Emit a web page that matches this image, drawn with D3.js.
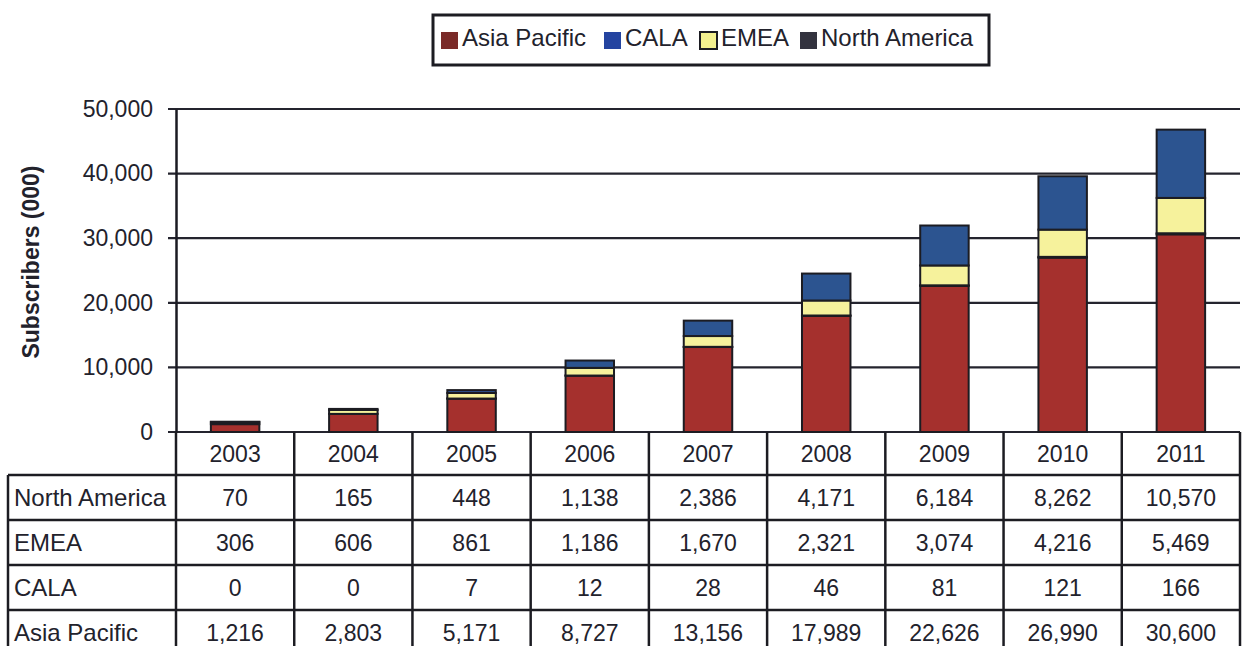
<!DOCTYPE html>
<html>
<head>
<meta charset="utf-8">
<script src="https://cdn.jsdelivr.net/npm/d3@7"></script>
<style>
  body { margin: 0; background: #fff; }
  svg { font-family: "Liberation Sans", Arial, sans-serif; }
</style>
</head>
<body>
<div id="chart"></div>
<script>
// data
var years = ["2003", "2004", "2005", "2006", "2007", "2008", "2009", "2010", "2011"];
var asiaPacific = [1216, 2803, 5171, 8727, 13156, 17989, 22626, 26990, 30600];
var cala = [0, 0, 7, 12, 28, 46, 81, 121, 166];
var emea = [306, 606, 861, 1186, 1670, 2321, 3074, 4216, 5469];
var northAmerica = [70, 165, 448, 1138, 2386, 4171, 6184, 8262, 10570];
var yTicks = [0, 10000, 20000, 30000, 40000, 50000];

var seriesNames = ["Asia Pacific", "CALA", "EMEA", "North America"];
// colours as they show in the bars
var barColors = ["#a5302d", "#2b2d3f", "#f6f29c", "#2c5490"];
// colours as they show in the legend
var legendColors = ["#7a2a28", "#2444a0", "#f3f08e", "#33333f"];
// table rows top to bottom
var tableRows = [
  ["North America", northAmerica],
  ["EMEA", emea],
  ["CALA", cala],
  ["Asia Pacific", asiaPacific]
];

var width = 1242, height = 646;
var plotLeft = 176, plotRight = 1240, plotTop = 109, plotBase = 432;
var rowH = 45;
var ink = "#22222c";

var svg = d3.select("#chart").append("svg")
  .attr("width", width)
  .attr("height", height);

var x = d3.scaleBand().domain(years).range([plotLeft, plotRight])
  .paddingInner(0.59).paddingOuter(0.295);
var y = d3.scaleLinear().domain([0, 50000]).range([plotBase, plotTop]);

// gridlines
svg.append("g").selectAll("line")
  .data(yTicks)
  .enter().append("line")
  .attr("x1", plotLeft - 8).attr("x2", plotRight)
  .attr("y1", d => y(d)).attr("y2", d => y(d))
  .attr("stroke", "#24242e")
  .attr("stroke-width", 2.2);

// y axis
var yAxis = d3.axisLeft(y).tickValues(yTicks).tickSize(0).tickPadding(23)
  .tickFormat(d3.format(","));
var gy = svg.append("g")
  .attr("transform", "translate(" + plotLeft + ",0)")
  .call(yAxis);
gy.select(".domain").attr("stroke", "#1a1a22").attr("stroke-width", 2.5);
gy.selectAll("text")
  .attr("font-size", 23)
  .attr("fill", ink)
  .attr("font-family", "Liberation Sans, Arial, sans-serif");

svg.append("text")
  .attr("transform", "translate(39,262) rotate(-90)")
  .attr("text-anchor", "middle")
  .attr("font-size", 23)
  .attr("font-weight", "bold")
  .attr("fill", ink)
  .text("Subscribers (000)");

// stacked bars
var table = years.map(function(yr, i) {
  return { year: yr, "Asia Pacific": asiaPacific[i], "CALA": cala[i], "EMEA": emea[i], "North America": northAmerica[i] };
});
var stack = d3.stack().keys(seriesNames)(table);

svg.append("g").selectAll("g")
  .data(stack)
  .enter().append("g")
  .attr("fill", (d, i) => barColors[i])
  .selectAll("rect")
  .data(d => d)
  .enter().append("rect")
  .attr("x", d => x(d.data.year))
  .attr("width", x.bandwidth())
  .attr("y", d => y(d[1]))
  .attr("height", d => y(d[0]) - y(d[1]))
  .attr("stroke", "#1c1c22")
  .attr("stroke-width", 2);

// data table
var step = x.step();
var colEdges = d3.range(years.length + 1).map(i => plotLeft + i * step);
var tg = svg.append("g").attr("stroke", "#1c1c22").attr("stroke-width", 2.5);

colEdges.forEach(function(cx) {
  tg.append("line").attr("x1", cx).attr("x2", cx).attr("y1", plotBase).attr("y2", height + 5);
});
tg.append("line").attr("x1", 8).attr("x2", 8).attr("y1", plotBase + 43).attr("y2", height + 5);
d3.range(tableRows.length).forEach(function(r) {
  var ly = plotBase + 43 + r * rowH;
  tg.append("line").attr("x1", 8).attr("x2", plotRight).attr("y1", ly).attr("y2", ly);
});

// years
svg.append("g").selectAll("text")
  .data(years)
  .enter().append("text")
  .attr("x", d => x(d) + x.bandwidth() / 2)
  .attr("y", plotBase + 30)
  .attr("text-anchor", "middle")
  .attr("font-size", 23)
  .attr("fill", ink)
  .text(d => d);

var fmt = d3.format(",");
tableRows.forEach(function(row, r) {
  var ty = plotBase + 43 + r * rowH + 31;
  svg.append("text")
    .attr("x", 14).attr("y", ty)
    .attr("font-size", 24)
    .attr("fill", ink)
    .text(row[0]);
  svg.append("g").selectAll("text")
    .data(row[1])
    .enter().append("text")
    .attr("x", (d, i) => x(years[i]) + x.bandwidth() / 2)
    .attr("y", ty)
    .attr("text-anchor", "middle")
    .attr("font-size", 23)
    .attr("fill", ink)
    .text(d => fmt(d));
});

// legend
var lg = svg.append("g");
lg.append("rect")
  .attr("x", 433).attr("y", 15).attr("width", 556).attr("height", 50)
  .attr("fill", "#fff").attr("stroke", "#1c1c22").attr("stroke-width", 3);
var legendX = [441, 604, 700, 800];
seriesNames.forEach(function(name, i) {
  lg.append("rect")
    .attr("x", legendX[i]).attr("y", 32).attr("width", 17).attr("height", 17)
    .attr("fill", legendColors[i])
    .attr("stroke", i == 2 ? "#1c1c22" : "none")
    .attr("stroke-width", 2);
  lg.append("text")
    .attr("x", legendX[i] + 21).attr("y", 46)
    .attr("font-size", 24)
    .attr("fill", ink)
    .text(name);
});
</script>
</body>
</html>
